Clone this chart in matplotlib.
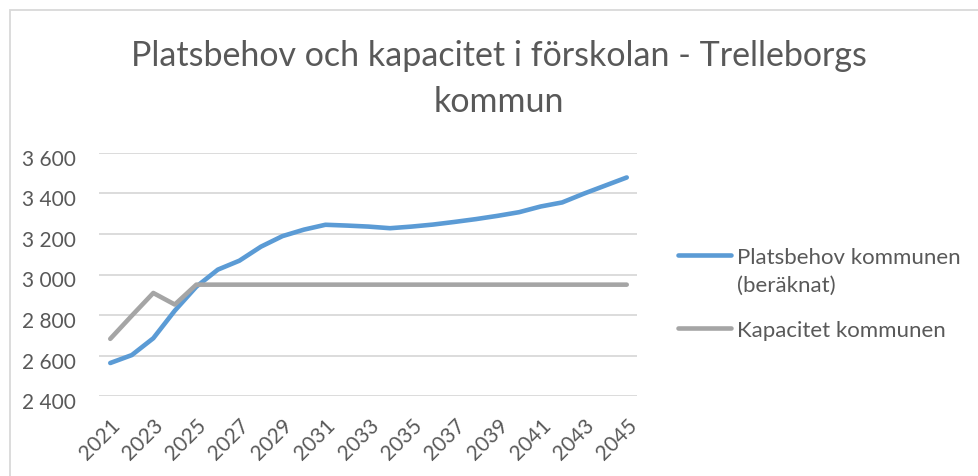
import matplotlib
matplotlib.use("Agg")
import matplotlib.pyplot as plt
import matplotlib.transforms as mtransforms
from matplotlib.lines import Line2D
from matplotlib.patches import Rectangle
from matplotlib.ticker import FuncFormatter

# data
years = list(range(2021, 2046))
platsbehov = [2564, 2603, 2686, 2822, 2940, 3024, 3068, 3137, 3189, 3221,
              3245, 3241, 3236, 3228, 3236, 3246, 3259, 3273, 3289, 3307,
              3335, 3355, 3398, 3438, 3478]
kapacitet = [2683, 2797, 2909, 2852, 2950, 2950, 2950, 2950, 2950, 2950,
             2950, 2950, 2950, 2950, 2950, 2950, 2950, 2950, 2950, 2950,
             2950, 2950, 2950, 2950, 2950]
series_labels = ["Platsbehov kommunen\n(beräknat)", "Kapacitet kommunen"]
series_colors = ["#5B9BD5", "#A5A5A5"]
title_lines = ["Platsbehov och kapacitet i förskolan - Trelleborgs", "kommun"]

plt.rcParams["font.family"] = ["Lato", "DejaVu Sans"]
txtcol = "#595959"

W, H = 979, 477
fig = plt.figure(figsize=(W / 100, H / 100), dpi=100)
ax = fig.add_axes([99.5 / W, 1 - 397.3 / H, (637.5 - 99.5) / W, (397.3 - 153.7) / H])

x = list(range(len(years)))
for vals, col in zip([platsbehov, kapacitet], series_colors):
    ax.plot(x, vals, color=col, lw=3.3, solid_capstyle="round",
            solid_joinstyle="round", zorder=3)

ax.set_xlim(-0.5, len(years) - 0.5)
ax.set_ylim(2400, 3600)
ax.set_yticks(range(2400, 3601, 200))
ax.yaxis.set_major_formatter(FuncFormatter(lambda v, p: "{:,}".format(int(v)).replace(",", " ")))
ax.set_xticks(x[::2])
ax.set_xticklabels([str(y) for y in years[::2]], rotation=45, ha="right",
                   va="top", rotation_mode="anchor")
ax.grid(axis="y", color="#D9D9D9", lw=1.3)
ax.set_axisbelow(True)
for s in ax.spines.values():
    s.set_visible(False)
ax.tick_params(axis="both", length=0, labelsize=15, labelcolor=txtcol)
ax.tick_params(axis="y", pad=17)
ax.tick_params(axis="x", pad=13)

off = mtransforms.ScaledTranslation(0, -4 / 100, fig.dpi_scale_trans)
for lab in ax.get_yticklabels():
    lab.set_transform(lab.get_transform() + off)

# title, two lines with fixed baselines
for line, base in zip(title_lines, [66, 112.3]):
    fig.text(499 / W, 1 - base / H, line, ha="center", va="baseline",
             fontsize=24.5, color=txtcol)

# legend
leg_y = [255.7, 329]
for yy, lab, col in zip(leg_y, series_labels, series_colors):
    fig.add_artist(Line2D([678 / W, 731 / W], [1 - yy / H, 1 - yy / H], color=col,
                          lw=3.3, solid_capstyle="round", transform=fig.transFigure))
    for i, part in enumerate(lab.split("\n")):
        fig.text(737 / W, 1 - (yy + 8.5 + 27.5 * i) / H, part, ha="left",
                 va="baseline", fontsize=16, color=txtcol)

# chart border
fig.add_artist(Rectangle((10 / W, -0.1), 1.2, 1 - 10.5 / H + 0.1, fill=False,
                         edgecolor="#D9D9D9", lw=1.3, transform=fig.transFigure))

fig.savefig("out.png", dpi=100)
